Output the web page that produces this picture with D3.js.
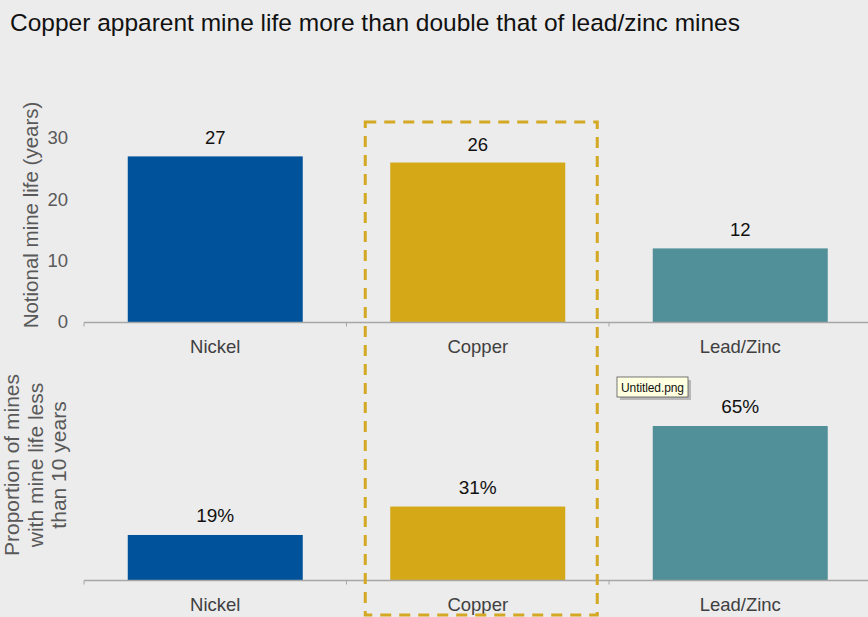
<!DOCTYPE html>
<html>
<head>
  <meta charset="utf-8">
  <script src="https://cdn.jsdelivr.net/npm/d3@7"></script>
  <style>
    body { margin: 0; background: #ececec; }
    text { font-family: "Liberation Sans", Arial, sans-serif; }
  </style>
</head>
<body>
  <svg width="868" height="617" id="mainsvg"></svg>
  <script>
    const categories = ['Nickel', 'Copper', 'Lead/Zinc'];
    const mineLife = [27, 26, 12];
    const shortLifeShare = [19, 31, 65];
    const lifeTicks = [0, 10, 20, 30];
    const colors = ['#00529b', '#d4a817', '#518f99'];

    const svg = d3.select('svg');
    const width = +svg.attr('width');

    svg.append('rect').attr('width', width).attr('height', 617).attr('fill', '#ececec');

    // title
    svg.append('text')
      .attr('x', 10).attr('y', 31)
      .attr('font-size', 24.5).attr('fill', '#111')
      .text('Copper apparent mine life more than double that of lead/zinc mines');

    const x = d3.scaleBand()
      .domain(categories)
      .range([84, 871.5])
      .paddingInner(1 / 3).paddingOuter(1 / 6);

    const color = d3.scaleOrdinal().domain(categories).range(colors);

    // ---- top panel: notional mine life
    const yTop = d3.scaleLinear().domain([0, 30]).range([322, 138]);

    const topG = svg.append('g');
    topG.selectAll('.bar').data(categories).join('rect')
      .attr('x', d => x(d))
      .attr('width', x.bandwidth())
      .attr('y', (d, i) => yTop(mineLife[i]))
      .attr('height', (d, i) => yTop(0) - yTop(mineLife[i]))
      .attr('fill', d => color(d));

    topG.selectAll('.val').data(categories).join('text')
      .attr('x', d => x(d) + x.bandwidth() / 2)
      .attr('y', (d, i) => yTop(mineLife[i]) - 12)
      .attr('text-anchor', 'middle')
      .attr('font-size', 18.5).attr('fill', '#111')
      .text((d, i) => mineLife[i]);

    const yAxis = d3.axisLeft(yTop).tickValues(lifeTicks).tickSize(0).tickPadding(0);
    topG.append('g')
      .attr('transform', 'translate(68,0)')
      .call(yAxis)
      .call(g => g.select('.domain').remove())
      .call(g => g.selectAll('text')
        .attr('font-size', 18.5).attr('fill', '#595959')
        .attr('font-family', '"Liberation Sans", Arial, sans-serif'));

    function catAxis(g, y0) {
      g.append('line')
        .attr('x1', 84).attr('x2', width)
        .attr('y1', y0).attr('y2', y0)
        .attr('stroke', '#a6a6a6').attr('stroke-width', 1.3);
      const edges = categories.map(d => x(d) - x.step() * x.paddingInner() / 2);
      g.selectAll('.tk').data(edges).join('line')
        .attr('x1', d => d).attr('x2', d => d)
        .attr('y1', y0).attr('y2', y0 + 4)
        .attr('stroke', '#a6a6a6');
      g.selectAll('.lbl').data(categories).join('text')
        .attr('x', d => x(d) + x.bandwidth() / 2)
        .attr('y', y0 + 30)
        .attr('text-anchor', 'middle')
        .attr('font-size', 18.5).attr('fill', '#404040')
        .text(d => d);
    }
    catAxis(topG, 322.5);

    svg.append('text')
      .attr('transform', 'translate(38,215) rotate(-90)')
      .attr('text-anchor', 'middle')
      .attr('font-size', 20.5).attr('fill', '#595959')
      .text('Notional mine life (years)');

    // ---- bottom panel: share of mines with life < 10 years
    const yBot = d3.scaleLinear().domain([0, 65]).range([580, 426]);

    const botG = svg.append('g');
    botG.selectAll('.bar').data(categories).join('rect')
      .attr('x', d => x(d))
      .attr('width', x.bandwidth())
      .attr('y', (d, i) => yBot(shortLifeShare[i]))
      .attr('height', (d, i) => yBot(0) - yBot(shortLifeShare[i]))
      .attr('fill', d => color(d));

    botG.selectAll('.val').data(categories).join('text')
      .attr('x', d => x(d) + x.bandwidth() / 2)
      .attr('y', (d, i) => yBot(shortLifeShare[i]) - 13)
      .attr('text-anchor', 'middle')
      .attr('font-size', 19).attr('fill', '#111')
      .text((d, i) => shortLifeShare[i] + '%');

    catAxis(botG, 580.5);

    const botLabel = ['Proportion of mines', 'with mine life less', 'than 10 years'];
    svg.append('text')
      .attr('transform', 'translate(19,465) rotate(-90)')
      .attr('text-anchor', 'middle')
      .attr('font-size', 21).attr('fill', '#595959')
      .selectAll('tspan').data(botLabel).join('tspan')
      .attr('x', 0).attr('dy', (d, i) => i === 0 ? 0 : 23.5)
      .text(d => d);

    // dashed highlight around copper
    const cx = x('Copper');
    svg.append('rect')
      .attr('x', cx - 25).attr('y', 122)
      .attr('width', x.bandwidth() + 57).attr('height', 493)
      .attr('fill', 'none')
      .attr('stroke', '#d4a822').attr('stroke-width', 3)
      .attr('stroke-dasharray', '11,8');

    // tooltip artifact from the screenshot
    const tip = svg.append('g').attr('transform', 'translate(617,377)');
    tip.append('rect').attr('x', 3).attr('y', 3).attr('width', 71).attr('height', 20).attr('fill', '#b8b8b8');
    tip.append('rect').attr('width', 71).attr('height', 20)
      .attr('fill', '#ffffe1').attr('stroke', '#555').attr('stroke-width', 0.8);
    tip.append('text').attr('x', 4).attr('y', 15)
      .attr('font-size', 12).attr('fill', '#111')
      .attr('font-family', '"DejaVu Sans", sans-serif')
      .attr('textLength', 63)
      .text('Untitled.png');
  </script>
</body>
</html>
